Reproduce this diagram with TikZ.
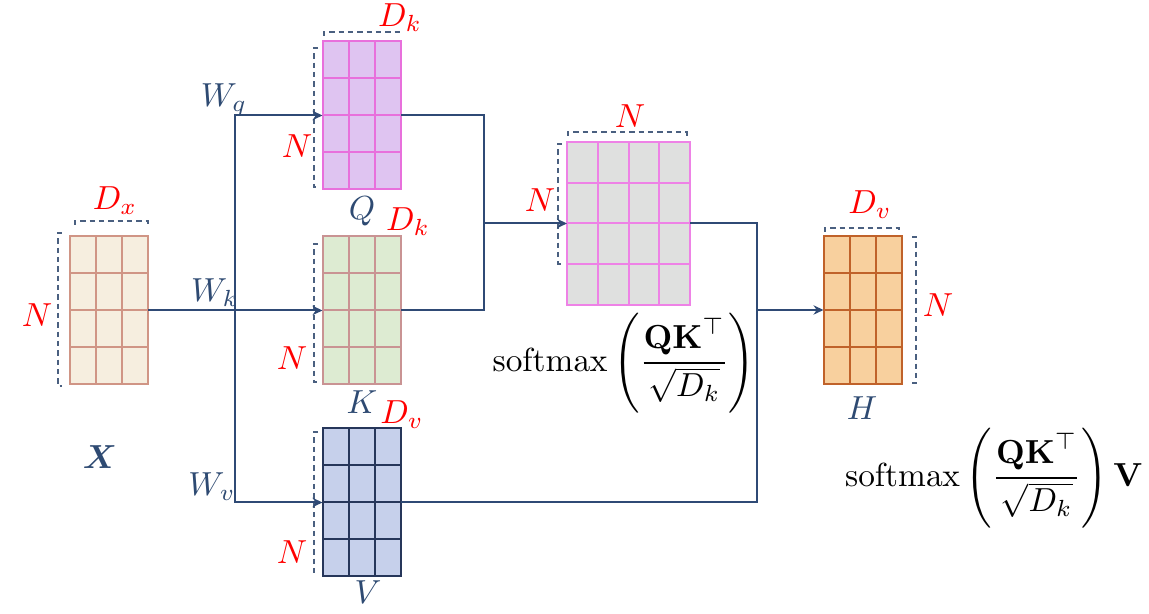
\documentclass[tikz,border=0pt]{standalone}
\usepackage{amsmath,amssymb,bm}
\usepackage{tikz}
\usetikzlibrary{arrows.meta,calc,positioning}

\definecolor{lineblue}{HTML}{2F4A75}
\definecolor{txtblue}{HTML}{2E4A72}
\definecolor{brkblue}{HTML}{4A6080}
\definecolor{xfill}{HTML}{F6EEDF}
\definecolor{xdraw}{HTML}{D09585}
\definecolor{qfill}{HTML}{DFC4F1}
\definecolor{qdraw}{HTML}{E870DC}
\definecolor{kfill}{HTML}{DDEBD2}
\definecolor{kdraw}{HTML}{C99393}
\definecolor{vfill}{HTML}{C6D0EB}
\definecolor{vdraw}{HTML}{26365A}
\definecolor{afill}{HTML}{DFE0DF}
\definecolor{adraw}{HTML}{EE82E6}
\definecolor{hfill}{HTML}{F8D09E}
\definecolor{hdraw}{HTML}{C0622A}

% grid lines inside a matrix node: name, columns, rows, colour
\newcommand{\matgrid}[4]{%
  \pgfmathtruncatemacro{\matcols}{#2-1}
  \pgfmathtruncatemacro{\matrows}{#3-1}
  \foreach \i in {1,...,\matcols}
    \draw[#4, line width=0.6pt] ($(#1.north west)!\i/#2!(#1.north east)$) -- ($(#1.south west)!\i/#2!(#1.south east)$);
  \foreach \j in {1,...,\matrows}
    \draw[#4, line width=0.6pt] ($(#1.north west)!\j/#3!(#1.south west)$) -- ($(#1.north east)!\j/#3!(#1.south east)$);
}

\begin{document}
\begin{tikzpicture}[x=0.3pt, y=-0.3pt,
    mat/.style={draw, line width=0.6pt, inner sep=0pt, outer sep=0pt, minimum width=23.7pt, minimum height=44.4pt},
    attn/.style={mat, minimum width=36.9pt, minimum height=48.9pt},
    arr/.style={-{Stealth[length=3pt, width=2.8pt]}, lineblue, line width=0.6pt},
    conn/.style={lineblue, line width=0.6pt},
    brk/.style={brkblue, line width=0.4pt, dash pattern=on 1.6pt off 1.2pt},
    dim/.style={red, inner sep=0pt},
    lbl/.style={text=txtblue, inner sep=0pt}
]
\useasboundingbox (0,0) rectangle (1149,614);

% matrices
\node[mat, fill=xfill, draw=xdraw] (X) at (109,310.5) {};
\node[mat, fill=qfill, draw=qdraw] (Q) at (362,115.5) {};
\node[mat, fill=kfill, draw=kdraw] (K) at (362,310.5) {};
\node[mat, fill=vfill, draw=vdraw] (V) at (362,502.5) {};
\node[attn, fill=afill, draw=adraw] (A) at (628.5,223.5) {};
\node[mat, fill=hfill, draw=hdraw] (H) at (863,310) {};
\matgrid{X}{3}{4}{xdraw}
\matgrid{Q}{3}{4}{qdraw}
\matgrid{K}{3}{4}{kdraw}
\matgrid{V}{3}{4}{vdraw}
\matgrid{A}{4}{4}{adraw}
\matgrid{H}{3}{4}{hdraw}

% dashed size brackets
\draw[brk] (75,225) -- (75,221) -- (148,221) -- (148,225);
\draw[brk] (62,233) -- (58,233) -- (58,386) -- (62,386);
\draw[brk] (324,36) -- (324,32) -- (399,32) -- (399,36);
\draw[brk] (318,48) -- (314,48) -- (314,187) -- (318,187);
\draw[brk] (318,244) -- (314,244) -- (314,382) -- (318,382);
\draw[brk] (318,432) -- (314,432) -- (314,572) -- (318,572);
\draw[brk] (568,136) -- (568,132) -- (687,132) -- (687,136);
\draw[brk] (562,144) -- (558,144) -- (558,264) -- (562,264);
\draw[brk] (825,232) -- (825,228) -- (899,228) -- (899,232);
\draw[brk] (912,237) -- (916,237) -- (916,383) -- (912,383);

% connectors
\coordinate (split) at (235,310.5);
\coordinate (qk) at (484,223.5);
\coordinate (av) at (757,310);
\draw[arr] (X.east) -- (K.west);
\draw[arr] (split) |- (Q.west);
\draw[arr] (split) |- (V.west);
\draw[conn] (Q.east) -| (qk) |- (K.east);
\draw[arr] (qk) -- (A.west);
\draw[conn] (A.east) -| (av) |- (V.east);
\draw[arr] (av) -- (H.west);

% labels
\node[dim] (dX) at (115,201) {$D_x$};
\node[dim] (nX) at (37,315) {$N$};
\node[lbl] (lX) at (100,457) {$\bm{X}$};
\node[lbl] (wq) at (224,100) {$W_q$};
\node[lbl] (wk) at (215,293) {$W_k$};
\node[lbl] (wv) at (212,487) {$W_v$};
\node[dim] (dQ) at (400,18) {$D_k$};
\node[dim] (nQ) at (297,146) {$N$};
\node[lbl] (lQ) at (362,211) {$Q$};
\node[dim] (dK) at (408,222) {$D_k$};
\node[dim] (nK) at (292,358) {$N$};
\node[lbl] (lK) at (362,402) {$K$};
\node[dim] (dV) at (402,415) {$D_v$};
\node[dim] (nV) at (292,552) {$N$};
\node[lbl] (lV) at (368,592) {$V$};
\node[dim] (dA) at (630,116) {$N$};
\node[dim] (nA) at (540,200) {$N$};
\node[inner sep=0pt] (sm) at (624,363) {$\displaystyle\mathrm{softmax}\left(\frac{\mathbf{QK}^{\top}}{\sqrt{D_k}}\right)$};
\node[dim] (dH) at (870,205) {$D_v$};
\node[dim] (nH) at (938,305) {$N$};
\node[lbl] (lH) at (862,408) {$H$};
\node[inner sep=0pt] (att) at (994,478) {$\displaystyle\mathrm{softmax}\left(\frac{\mathbf{QK}^{\top}}{\sqrt{D_k}}\right)\mathbf{V}$};
\end{tikzpicture}
\end{document}
